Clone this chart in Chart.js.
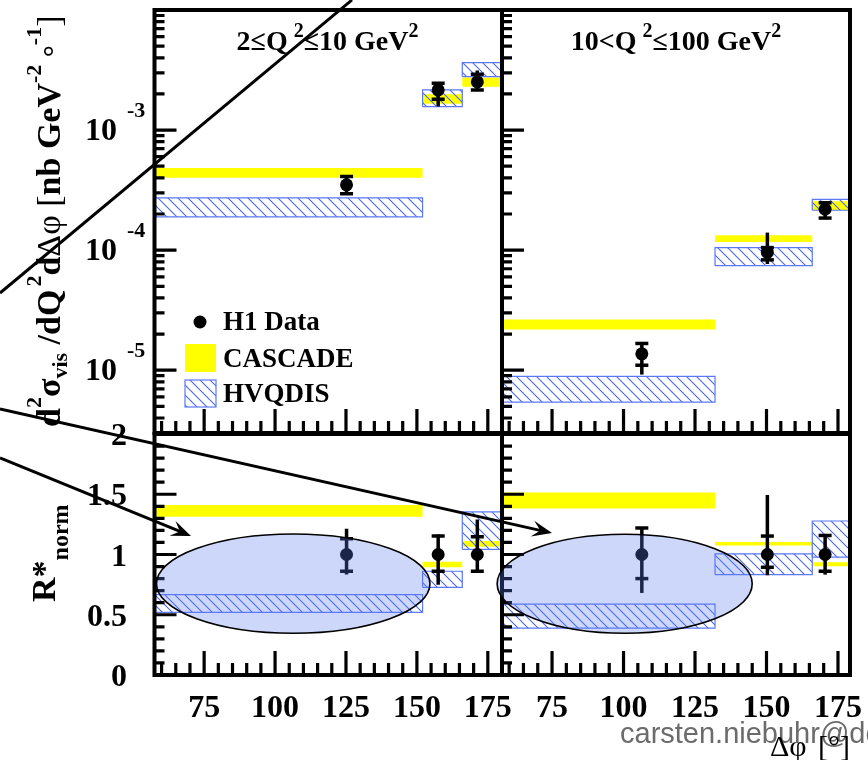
<!DOCTYPE html>
<html>
<head>
<meta charset="utf-8">
<script src="https://cdn.jsdelivr.net/npm/chart.js@4.4.1/dist/chart.umd.min.js"></script>
<style>
  html, body { margin: 0; padding: 0; background: #fff; }
  #wrap { position: relative; width: 868px; height: 760px; overflow: hidden; }
  #wrap canvas { position: absolute; left: 0; top: 0; }
</style>
</head>
<body>
<div id="wrap">
  <canvas id="topLeft" width="868" height="760"></canvas>
  <canvas id="topRight" width="868" height="760"></canvas>
  <canvas id="botLeft" width="868" height="760"></canvas>
  <canvas id="botRight" width="868" height="760"></canvas>
</div>
<script>
// ---------- data ----------
const xMin = 57.5;
const xMaxLow = 180;
const xMaxHigh = 179.2;
const xTickValues = [75, 100, 125, 150, 175];
const xTickLabels = ['75', '100', '125', '150', '175'];

const xsecMin = 3e-6, xsecMax = 1e-2;
const xsecTickValues = [1e-3, 1e-4, 1e-5];
const xsecTickExp = ['-3', '-4', '-5'];

const ratioMin = 0, ratioMax = 2;
const ratioTickValues = [0, 0.5, 1, 1.5, 2];
const ratioTickLabels = ['0', '0.5', '1', '1.5', '2'];

// 2 <= Q2 <= 10 GeV2
const lowBins = [[57.5, 152], [152, 166], [166, 180]];
const lowX = [125.2, 157.5, 171.3];
const lowXsec = [3.5e-4, 2.16e-3, 2.52e-3];
const lowXsecStat = [[2.95e-4, 4.1e-4], [1.81e-3, 2.45e-3], [2.16e-3, 2.91e-3]];
const lowXsecTot = [[2.89e-4, 4.19e-4], [1.57e-3, 2.48e-3], [2.12e-3, 3.14e-3]];
const lowXsecCascade = [[4.0e-4, 4.84e-4], [1.66e-3, 1.99e-3], [2.30e-3, 2.74e-3]];
const lowXsecHvqdis = [[1.89e-4, 2.72e-4], [1.57e-3, 2.16e-3], [2.79e-3, 3.64e-3]];

const lowRatio = [1, 1, 1];
const lowRatioStat = [[0.86, 1.13], [0.86, 1.153], [0.861, 1.147]];
const lowRatioTot = [[0.833, 1.214], [0.75, 1.167], [0.847, 1.29]];
const lowRatioCascade = [[1.314, 1.411], [0.894, 0.939], [1.064, 1.111]];
const lowRatioHvqdis = [[0.519, 0.667], [0.728, 0.861], [1.042, 1.353]];

// 10 < Q2 <= 100 GeV2
const highBins = [[57.5, 132], [132, 166], [166, 179.2]];
const highX = [106.4, 150.3, 170.5];
const highXsec = [1.37e-5, 9.57e-5, 2.19e-4];
const highXsecStat = [[1.10e-5, 1.67e-5], [8.3e-5, 1.05e-4], [1.85e-4, 2.48e-4]];
const highXsecTot = [[9.2e-6, 1.67e-5], [7.67e-5, 1.40e-4], [1.81e-4, 2.52e-4]];
const highXsecCascade = [[2.18e-5, 2.64e-5], [1.17e-4, 1.33e-4], [2.15e-4, 2.56e-4]];
const highXsecHvqdis = [[5.43e-6, 8.9e-6], [7.43e-5, 1.05e-4], [2.15e-4, 2.65e-4]];

const highRatio = [1, 1, 1];
const highRatioStat = [[0.80, 1.22], [0.894, 1.153], [0.861, 1.158]];
const highRatioTot = [[0.681, 1.228], [0.828, 1.494], [0.833, 1.167]];
const highRatioCascade = [[1.381, 1.514], [1.075, 1.103], [0.903, 0.936]];
const highRatioHvqdis = [[0.389, 0.589], [0.833, 1.006], [0.978, 1.278]];

// hand-drawn marks on top of the figure (in R*-panel units of the left column)
const lowEllipse = { cx: 106.4, cy: 0.758, rx: 48.2, ry: 0.412 };
const highEllipse = { cx: 100.4, cy: 0.757, rx: 44.6, ry: 0.411 };
const sketchLines = [
  { from: [3.03, 3.170], to: [127.12, 5.602], arrow: false },
  { from: [3.03, 2.207], to: [197.63, 1.178], arrow: true },
  { from: [3.03, 1.801], to: [70.37, 1.154], arrow: true }
];

// ---------- layout ----------
const W = 868, H = 760;
const panels = {
  topLeft: { left: 154.5, right: 502, top: 7, bottom: 433 },
  topRight: { left: 502, right: 850, top: 7, bottom: 433 },
  botLeft: { left: 154.5, right: 502, top: 434, bottom: 675 },
  botRight: { left: 502, right: 850, top: 434, bottom: 675 }
};
const serif = '"Liberation Serif", "DejaVu Serif", serif';
const font = (size, weight) => (weight || 'bold') + ' ' + size + 'px ' + serif;
const YELLOW = '#ffff00';
const BLUE = '#4a68f0';

function makeHatch() {
  const c = document.createElement('canvas');
  c.width = 10; c.height = 10;
  const g = c.getContext('2d');
  g.strokeStyle = BLUE; g.lineWidth = 1.1;
  g.beginPath();
  g.moveTo(-2, -2); g.lineTo(12, 12);
  g.moveTo(-2, 8); g.lineTo(2, 12);
  g.moveTo(8, -2); g.lineTo(12, 2);
  g.stroke();
  return g.createPattern(c, 'repeat');
}
const hatch = makeHatch();

// ---------- datasets ----------
function bandSets(bins, bands, style, order) {
  return bins.map((b, i) => Object.assign({
    data: [
      { x: b[0], y: bands[i][0] }, { x: b[0], y: bands[i][1] },
      { x: b[1], y: bands[i][1] }, { x: b[1], y: bands[i][0] },
      { x: b[0], y: bands[i][0] }
    ],
    showLine: true, fill: 'shape', pointRadius: 0, tension: 0, order: order
  }, style));
}

function dataSets(x, val, stat, tot) {
  const sets = x.map((xv, i) => ({
    data: [{ x: xv, y: tot[i][0] }, { x: xv, y: tot[i][1] }],
    showLine: true, borderColor: '#000', borderWidth: 3.5, pointRadius: 0, order: 3
  }));
  sets.push({
    data: x.flatMap((xv, i) => [{ x: xv, y: stat[i][0] }, { x: xv, y: stat[i][1] }]),
    pointStyle: 'line', pointRadius: 6.5, borderColor: '#000', borderWidth: 3.5, order: 2
  });
  sets.push({
    data: x.map((xv, i) => ({ x: xv, y: val[i] })),
    pointStyle: 'circle', pointRadius: 6.5, backgroundColor: '#000', borderWidth: 0, order: 1
  });
  return sets;
}

function panelSets(bins, cascade, hvqdis, x, val, stat, tot) {
  return [].concat(
    bandSets(bins, cascade, { backgroundColor: YELLOW, borderWidth: 0, borderColor: 'rgba(0,0,0,0)' }, 5),
    bandSets(bins, hvqdis, { backgroundColor: hatch, borderWidth: 1.2, borderColor: '#5b78f5' }, 4),
    dataSets(x, val, stat, tot)
  );
}

// ---------- drawing helpers ----------
function rich(ctx, parts, x, y, align) {
  let total = 0;
  parts.forEach(p => {
    ctx.font = font(p.size, p.weight);
    p.w = ctx.measureText(p.t).width + (p.dx || 0);
    total += p.w;
  });
  let cx = align === 'center' ? x - total / 2 : (align === 'right' ? x - total : x);
  ctx.textAlign = 'left';
  ctx.textBaseline = 'alphabetic';
  parts.forEach(p => {
    ctx.font = font(p.size, p.weight);
    ctx.fillText(p.t, cx + (p.dx || 0), y + (p.dy || 0));
    cx += p.w;
  });
  return total;
}

function frameAndTicks(chart, logY) {
  const { ctx, chartArea: a } = chart;
  const x = chart.scales.x, y = chart.scales.y;
  ctx.save();
  ctx.strokeStyle = '#000';
  ctx.lineWidth = 3.2;
  ctx.beginPath();
  for (let v = 60; v < x.max; v += 5) {
    const px = x.getPixelForValue(v);
    ctx.moveTo(px, a.bottom);
    ctx.lineTo(px, a.bottom - (v % 25 === 0 ? 24 : 12));
  }
  if (logY) {
    for (let e = -6; e <= -2; e++) {
      for (let m = 1; m <= 9; m++) {
        const v = m * Math.pow(10, e);
        if (v <= y.min * 1.001 || v >= y.max * 0.999) continue;
        const py = y.getPixelForValue(v);
        ctx.moveTo(a.left, py);
        ctx.lineTo(a.left + (m === 1 ? 22 : 10), py);
      }
    }
  } else {
    for (let i = 1; i < 20; i++) {
      const py = y.getPixelForValue(i / 10);
      ctx.moveTo(a.left, py);
      ctx.lineTo(a.left + (i % 5 === 0 ? 22 : 10), py);
    }
  }
  ctx.stroke();
  ctx.lineWidth = 4;
  ctx.strokeRect(a.left, a.top, a.right - a.left, a.bottom - a.top);
  ctx.restore();
}

function xLabels(chart) {
  const ctx = chart.ctx;
  ctx.save();
  ctx.fillStyle = '#000';
  ctx.font = font(32);
  ctx.textAlign = 'center';
  ctx.textBaseline = 'alphabetic';
  xTickValues.forEach((v, i) => ctx.fillText(xTickLabels[i], chart.scales.x.getPixelForValue(v), 717));
  ctx.restore();
}

function drawEllipse(chart, e) {
  const { ctx } = chart;
  const x = chart.scales.x, y = chart.scales.y;
  const cx = x.getPixelForValue(e.cx), cy = y.getPixelForValue(e.cy);
  const rx = Math.abs(x.getPixelForValue(e.cx + e.rx) - cx);
  const ry = Math.abs(y.getPixelForValue(e.cy + e.ry) - cy);
  ctx.save();
  ctx.beginPath();
  ctx.ellipse(cx, cy, rx, ry, 0, 0, Math.PI * 2);
  ctx.fillStyle = 'rgba(88,122,238,0.3)';
  ctx.fill();
  ctx.strokeStyle = '#000';
  ctx.lineWidth = 1.6;
  ctx.stroke();
  ctx.restore();
}

function drawSketch(ctx, ref) {
  const x = ref.scales.x, y = ref.scales.y;
  ctx.save();
  ctx.strokeStyle = '#000';
  ctx.fillStyle = '#000';
  ctx.lineWidth = 3;
  sketchLines.forEach(l => {
    const x0 = x.getPixelForValue(l.from[0]), y0 = y.getPixelForValue(l.from[1]);
    const x1 = x.getPixelForValue(l.to[0]), y1 = y.getPixelForValue(l.to[1]);
    const ang = Math.atan2(y1 - y0, x1 - x0);
    const back = l.arrow ? 10 : 0;
    ctx.beginPath();
    ctx.moveTo(x0, y0);
    ctx.lineTo(x1 - back * Math.cos(ang), y1 - back * Math.sin(ang));
    ctx.stroke();
    if (l.arrow) {
      const len = 20, half = 8, notch = 12;
      const c = Math.cos(ang), s = Math.sin(ang);
      ctx.beginPath();
      ctx.moveTo(x1, y1);
      ctx.lineTo(x1 - len * c + half * s, y1 - len * s - half * c);
      ctx.lineTo(x1 - notch * c, y1 - notch * s);
      ctx.lineTo(x1 - len * c - half * s, y1 - len * s + half * c);
      ctx.closePath();
      ctx.fill();
    }
  });
  ctx.restore();
}

function makeChart(id, panel, xMax, yScale, datasets, draw) {
  return new Chart(document.getElementById(id), {
    type: 'scatter',
    data: { datasets: datasets },
    options: {
      responsive: false,
      animation: false,
      events: [],
      layout: { padding: { left: panel.left, top: panel.top, right: W - panel.right, bottom: H - panel.bottom } },
      scales: {
        x: { type: 'linear', min: xMin, max: xMax, display: false },
        y: Object.assign({ display: false }, yScale)
      },
      plugins: { legend: { display: false }, tooltip: { enabled: false } }
    },
    plugins: [{ id: 'decor', afterDatasetsDraw: draw }]
  });
}

const logY = { type: 'logarithmic', min: xsecMin, max: xsecMax };
const linY = { type: 'linear', min: ratioMin, max: ratioMax };
const charts = {};

// ---------- top left ----------
charts.topLeft = makeChart('topLeft', panels.topLeft, xMaxLow, logY,
  panelSets(lowBins, lowXsecCascade, lowXsecHvqdis, lowX, lowXsec, lowXsecStat, lowXsecTot),
  chart => {
    const ctx = chart.ctx;
    frameAndTicks(chart, true);
    ctx.save();
    ctx.fillStyle = '#000';
    // y tick labels 10^n
    xsecTickValues.forEach((v, i) => {
      const py = chart.scales.y.getPixelForValue(v);
      ctx.font = font(32);
      ctx.textAlign = 'right';
      ctx.fillText('10', 117, py + 10);
      ctx.font = font(22);
      ctx.textAlign = 'left';
      ctx.fillText(xsecTickExp[i], 127, py - 13);
    });
    // title
    rich(ctx, [
      { t: '2\u2264Q', size: 28 }, { t: '2', size: 20, dy: -13, dx: 6 },
      { t: '\u226410 GeV', size: 28 }, { t: '2', size: 20, dy: -13 }
    ], 327.5, 50, 'center');
    // legend
    ctx.beginPath();
    ctx.arc(200, 322, 6.5, 0, Math.PI * 2);
    ctx.fill();
    ctx.fillStyle = YELLOW;
    ctx.fillRect(185, 344, 31, 28);
    ctx.fillStyle = hatch;
    ctx.fillRect(185, 380, 31, 27);
    ctx.strokeStyle = '#5b78f5';
    ctx.lineWidth = 1.2;
    ctx.strokeRect(185, 380, 31, 27);
    ctx.fillStyle = '#000';
    ctx.font = font(27);
    ctx.textAlign = 'left';
    ctx.fillText('H1 Data', 223, 330);
    ctx.fillText('CASCADE', 223, 367);
    ctx.fillText('HVQDIS', 223, 402);
    // y title (rotated)
    ctx.translate(60, 427);
    ctx.rotate(-Math.PI / 2);
    rich(ctx, [
      { t: 'd', size: 34 }, { t: '2', size: 22, dy: -19 }, { t: '\u03c3', size: 34 },
      { t: 'vis', size: 22, dy: 7 }, { t: ' /dQ', size: 34 }, { t: '2', size: 22, dy: -19, dx: 3 },
      { t: 'd', size: 34 }, { t: '\u0394\u03c6', size: 34, weight: 'normal' },
      { t: ' [', size: 34, weight: 'normal' }, { t: 'nb GeV', size: 34 },
      { t: '-2', size: 22, dy: -19 }, { t: ' \u00b0', size: 30, dy: 4 },
      { t: '-1', size: 22, dy: -19 }, { t: ']', size: 34, weight: 'normal' }
    ], 0, 0, 'left');
    ctx.restore();
  });

// ---------- top right ----------
charts.topRight = makeChart('topRight', panels.topRight, xMaxHigh, logY,
  panelSets(highBins, highXsecCascade, highXsecHvqdis, highX, highXsec, highXsecStat, highXsecTot),
  chart => {
    const ctx = chart.ctx;
    frameAndTicks(chart, true);
    ctx.save();
    ctx.fillStyle = '#000';
    rich(ctx, [
      { t: '10<Q', size: 28 }, { t: '2', size: 20, dy: -13, dx: 6 },
      { t: '\u2264100 GeV', size: 28 }, { t: '2', size: 20, dy: -13 }
    ], 676, 50, 'center');
    ctx.restore();
  });

// ---------- bottom left ----------
charts.botLeft = makeChart('botLeft', panels.botLeft, xMaxLow, linY,
  panelSets(lowBins, lowRatioCascade, lowRatioHvqdis, lowX, lowRatio, lowRatioStat, lowRatioTot),
  chart => {
    const ctx = chart.ctx;
    frameAndTicks(chart, false);
    xLabels(chart);
    ctx.save();
    ctx.fillStyle = '#000';
    ctx.font = font(32);
    ctx.textAlign = 'right';
    ratioTickValues.forEach((v, i) => ctx.fillText(ratioTickLabels[i], 127, chart.scales.y.getPixelForValue(v) + 11));
    ctx.translate(55, 602);
    ctx.rotate(-Math.PI / 2);
    rich(ctx, [{ t: 'R*', size: 34 }, { t: 'norm', size: 24, dy: 13 }], 0, 0, 'left');
    ctx.restore();
    drawEllipse(chart, lowEllipse);
  });

// ---------- bottom right ----------
charts.botRight = makeChart('botRight', panels.botRight, xMaxHigh, linY,
  panelSets(highBins, highRatioCascade, highRatioHvqdis, highX, highRatio, highRatioStat, highRatioTot),
  chart => {
    const ctx = chart.ctx;
    frameAndTicks(chart, false);
    xLabels(chart);
    drawEllipse(chart, highEllipse);
    if (charts.botLeft) drawSketch(ctx, charts.botLeft);
    ctx.save();
    ctx.font = '29px "Liberation Sans", Arial, sans-serif';
    ctx.fillStyle = '#6b6b6b';
    ctx.textAlign = 'left';
    ctx.fillText('carsten.niebuhr@desy.de', 620, 743);
    ctx.fillStyle = '#000';
    ctx.font = font(30, 'normal');
    ctx.fillText('\u0394\u03c6', 770, 756);
    ctx.fillText('[\u00b0]', 818, 756);
    ctx.restore();
  });
</script>
</body>
</html>
